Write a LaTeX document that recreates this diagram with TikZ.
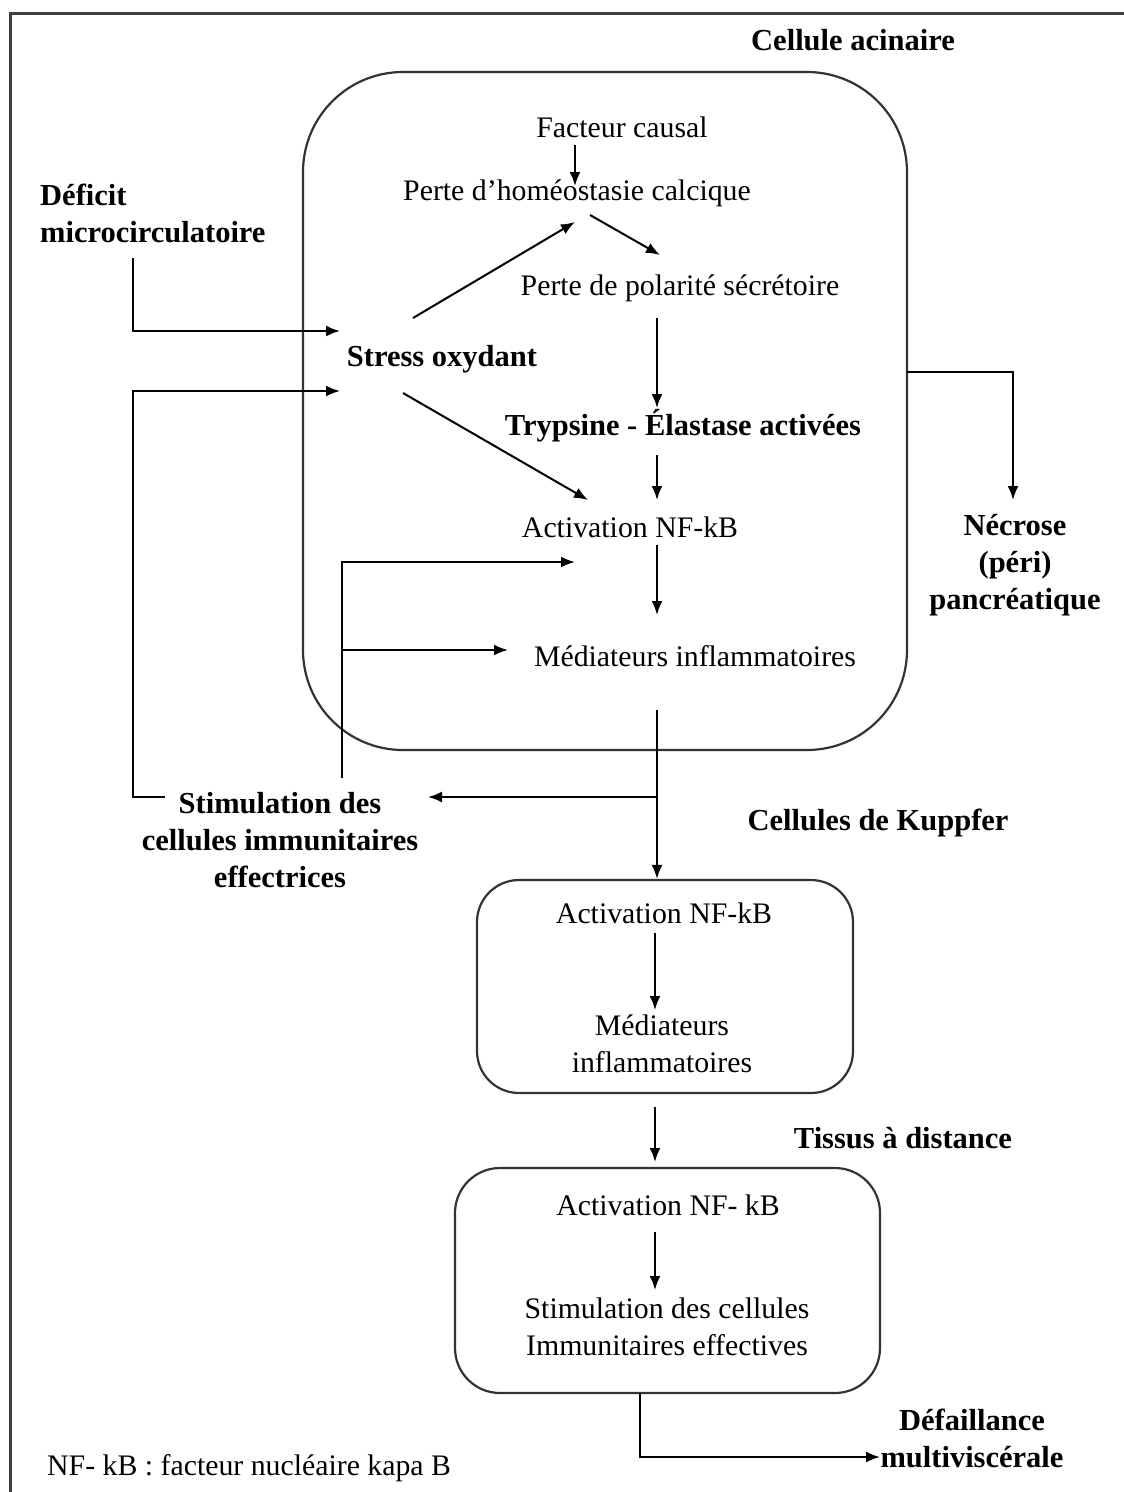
\documentclass[tikz,border=0pt]{standalone}
\usepackage{fontspec}
\setmainfont{Liberation Serif}
\usetikzlibrary{arrows.meta,calc}
\begin{document}
\begin{tikzpicture}[x=1pt,y=-1pt,
  every node/.style={font=\fontsize{29.8}{37}\selectfont, inner sep=0pt, align=center},
  bf/.style={font=\fontsize{30.5}{37}\selectfont\bfseries},
  arr/.style={draw=black, line width=2pt, -{Latex[length=14pt,width=11pt]}},
  ln/.style={draw=black, line width=2pt},
  cellbox/.style={draw=black!80, line width=2.2pt}
]
\useasboundingbox (0,0) rectangle (1124,1492);
% frame
\draw[black!75, line width=3pt] (1124,13) -- (10,13) -- (10,1492);

% boxes
\node[cellbox, rounded corners=100pt, minimum width=604pt, minimum height=678pt] (acin) at (605,411) {};
\node[cellbox, rounded corners=42pt, minimum width=376pt, minimum height=213pt] (kbox) at (665,986.5) {};
\node[cellbox, rounded corners=45pt, minimum width=425pt, minimum height=225pt] (tbox) at (667.5,1280.5) {};

% labels
\node[bf] (tacin) at (853,40) {Cellule acinaire};
\node (fc) at (622,127) {Facteur causal};
\node (phc) at (577,193) {Perte d'homéostasie calcique};
\node (ppol) at (680,288) {Perte de polarité sécrétoire};
\node[bf] (stress) at (442,359) {Stress oxydant};
\node[bf] (tryp) at (683,426) {Trypsine - Élastase activées};
\node (nfkb1) at (630,527) {Activation NF-kB};
\node (med1) at (695,656) {Médiateurs inflammatoires};
\node[bf, anchor=west, align=left] (deficit) at (40,213) {Déficit\\microcirculatoire};
\node[bf] (stim) at (280,840) {Stimulation des\\cellules immunitaires\\effectrices};
\node[bf] (necrose) at (1015,565) {Nécrose\\(péri)\\pancréatique};
\node[bf] (tkup) at (878,823) {Cellules de Kuppfer};
\node (act2) at (664,913) {Activation NF-kB};
\node (med2) at (662,1044) {Médiateurs\\inflammatoires};
\node[bf] (tissus) at (903,1138) {Tissus à distance};
\node (act3) at (668,1205) {Activation NF- kB};
\node (stim3) at (667,1327) {Stimulation des cellules\\Immunitaires effectives};
\node[bf] (defail) at (972,1438) {Défaillance\\multiviscérale};
\node[anchor=west] (note) at (47,1468) {NF- kB : facteur nucléaire kapa B};

% connector end points
\coordinate (fcS) at (575,145);   \coordinate (phcN) at (575,186);
\coordinate (stNE) at (413,318);  \coordinate (phcSW) at (575,222);
\coordinate (phcSE) at (590,215); \coordinate (ppolNW) at (660,255);
\coordinate (ppolS) at (657,318); \coordinate (trypN) at (657,408);
\coordinate (trypS) at (657,455); \coordinate (nfN) at (657,500);
\coordinate (stSE) at (403,393);  \coordinate (nfNW) at (588,500);
\coordinate (nfS) at (657,545);   \coordinate (medN) at (657,615);
\coordinate (defS) at (133,258);  \coordinate (stW1) at (340,331);
\coordinate (stimW) at (165,797); \coordinate (stW2) at (340,391);
\coordinate (stimN) at (342,778); \coordinate (nfW) at (575,562);
\coordinate (br1) at (342,650);   \coordinate (medW) at (508,650);
\coordinate (medS) at (657,710);  \coordinate (br2) at (657,797);
\coordinate (stimE) at (428,797);
\coordinate (acE) at (907,372);   \coordinate (necN) at (1013,500);
\coordinate (a2S) at (655,933);   \coordinate (m2N) at (655,1010);
\coordinate (kS) at (655,1107);   \coordinate (tN) at (655,1162);
\coordinate (a3S) at (655,1232);  \coordinate (s3N) at (655,1290);
\coordinate (tS) at (640,1393);   \coordinate (defW) at (880,1457);

% connectors
\draw[arr] (fcS) -- (phcN);
\draw[arr] (stNE) -- (phcSW);
\draw[arr] (phcSE) -- (ppolNW);
\draw[arr] (ppolS) -- (trypN);
\draw[arr] (trypS) -- (nfN);
\draw[arr] (stSE) -- (nfNW);
\draw[arr] (nfS) -- (medN);
\draw[arr] (defS) |- (stW1);
\draw[arr] (stimW) -- (133,797) |- (stW2);
\draw[arr] (stimN) |- (nfW);
\draw[arr] (br1) -- (medW);
\draw[arr] (medS) -- (kbox.north -| medS);
\draw[arr] (br2) -- (stimE);
\draw[arr] (acE) -| (necN);
\draw[arr] (a2S) -- (m2N);
\draw[arr] (kS) -- (tN);
\draw[arr] (a3S) -- (s3N);
\draw[arr] (tS) |- (defW);
\end{tikzpicture}
\end{document}
